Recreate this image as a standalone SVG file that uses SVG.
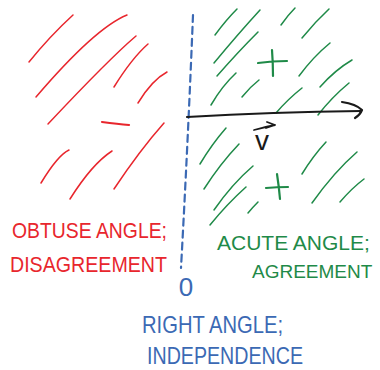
<svg xmlns="http://www.w3.org/2000/svg" width="380" height="370" viewBox="0 0 380 370">
<style>
.r{stroke:#e8262d;stroke-width:1.5;fill:none;stroke-linecap:round}
.g{stroke:#1f8a48;stroke-width:1.5;fill:none;stroke-linecap:round}
.b{stroke:#3b69b4;stroke-width:2.2;fill:none;stroke-linecap:round}
.k{stroke:#1a1a1a;stroke-width:2.2;fill:none;stroke-linecap:round;stroke-linejoin:round}
.t{font-family:"Liberation Sans","DejaVu Sans",sans-serif;font-weight:normal}
.tr{fill:#e8262d}.tg{fill:#1f8a48}.tb{fill:#3b69b4}.tk{fill:#1a1a1a}
</style>
<rect width="380" height="370" fill="#fff"/>
<g id="obtuse-region">
<path class="r" d="M29,62 Q50,36 73,15"/>
<path class="r" d="M36,97 Q95,28 127,15"/>
<path class="r" d="M48,124 Q110,58 136,36"/>
<path class="r" d="M114,87 Q132,58 148,44"/>
<path class="r" d="M138,103 Q152,80 167,72"/>
<path class="r" d="M41,183 Q58,155 69,150"/>
<path class="r" d="M70,199 Q92,164 112,151"/>
<path class="r" d="M114,189 Q140,150 164,123"/>
<path class="r" style="stroke-width:2.2" d="M102,122 Q118,124 129,125"/>
</g>
<g id="acute-region">
<path class="g" d="M215,35 Q226,20 237,9"/>
<path class="g" d="M214,63 Q238,34 260,10"/>
<path class="g" d="M217,76 Q238,52 258,32"/>
<path class="g" d="M211,105 Q222,86 236,73"/>
<path class="g" d="M242,97 Q250,87 259,80"/>
<path class="g" d="M281,25 Q288,15 295,8"/>
<path class="g" d="M302,38 Q315,22 329,9"/>
<path class="g" d="M299,76 Q313,57 330,43"/>
<path class="g" d="M320,87 Q335,70 352,60"/>
<path class="g" d="M276,113 Q288,99 302,88"/>
<path class="g" d="M318,115 Q332,97 349,83"/>
<path class="g" d="M200,164 Q212,144 226,128"/>
<path class="g" d="M204,189 Q220,164 239,144"/>
<path class="g" d="M214,210 Q232,184 253,166"/>
<path class="g" d="M210,225 Q227,204 246,187"/>
<path class="g" d="M248,213 Q253,207 258,202"/>
<path class="g" d="M302,174 Q313,156 326,142"/>
<path class="g" d="M312,203 Q334,172 357,152"/>
<path class="g" d="M340,202 Q352,188 364,179"/>
<path class="g" style="stroke-width:2.2" d="M258,63 Q272,61 287,61 M272,50 Q273,63 273,76"/>
<path class="g" style="stroke-width:2.2" d="M266,188 Q277,187 288,187 M277,174 Q279,187 280,199"/>
</g>
<g id="right-angle-boundary">
<path class="b" stroke-dasharray="7 5" d="M193,15 Q188,140 181,268"/>
<text class="t tb" x="186" y="296" font-size="26" text-anchor="middle">0</text>
</g>
<g id="label-obtuse">
<text class="t tr" x="12" y="238" font-size="22" textLength="155" lengthAdjust="spacingAndGlyphs">OBTUSE ANGLE;</text>
<text class="t tr" x="10" y="272" font-size="22" textLength="157" lengthAdjust="spacingAndGlyphs">DISAGREEMENT</text>
</g>
<g id="label-acute">
<text class="t tg" x="217" y="250" font-size="21">ACUTE ANGLE;</text>
<text class="t tg" x="252" y="278" font-size="19">AGREEMENT</text>
</g>
<g id="label-right">
<text class="t tb" x="142" y="333" font-size="24" textLength="141" lengthAdjust="spacingAndGlyphs">RIGHT ANGLE;</text>
<text class="t tb" x="147" y="364" font-size="23" textLength="156" lengthAdjust="spacingAndGlyphs">INDEPENDENCE</text>
</g>
<g id="vector-label">
<text class="t tk" x="255" y="150" font-size="28">v</text>
<path class="k" style="stroke-width:1.8" d="M254,130 Q265,127 275,125 M267,122 L275,125 L266,128"/>
</g>
<g id="connectors">
<path class="k" d="M187,117 Q273,112 361,111"/>
<path class="k" d="M342,102 Q356,104 362,110 Q360,115 355,118"/>
</g>
</svg>
